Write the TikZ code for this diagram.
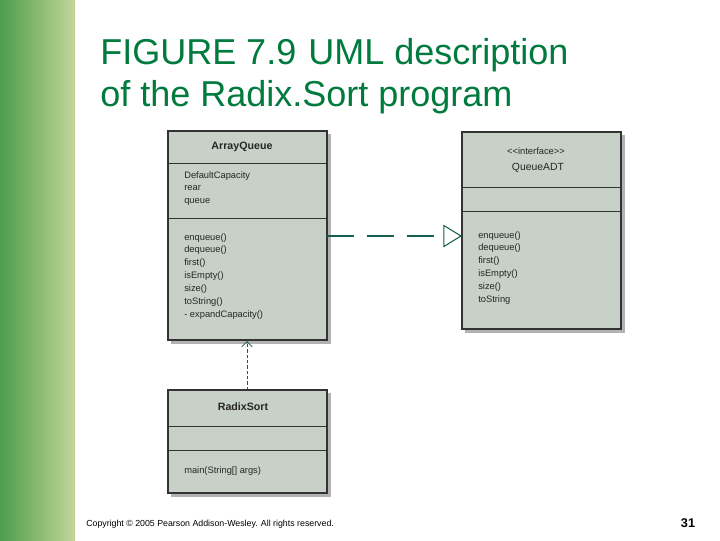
\documentclass[tikz,border=0pt]{standalone}
\usepackage{fontspec}
\setmainfont{Liberation Sans}
\usetikzlibrary{positioning, arrows.meta}
\definecolor{boxfill}{RGB}{199,209,199}
\definecolor{titlegreen}{RGB}{0,122,61}
\definecolor{linkgreen}{RGB}{20,95,80}
\tikzset{
    x=0.75pt, y=-0.75pt,
    umlbox/.style={draw=black!80, fill=boxfill, line width=0.8pt, anchor=north west, inner sep=0pt},
    shadow/.style={fill=black!30, draw=none},
    member/.style={anchor=north west, font=\fontsize{7}{9.7}\selectfont, align=left, inner sep=0pt, text=black!85},
    classname/.style={font=\fontsize{8}{9}\selectfont\bfseries, text=black!85},
}
\begin{document}
\begin{tikzpicture}
        \useasboundingbox (0,0) rectangle (720,540);
        % tree strip on the left
        \shade[left color=green!45!black!70, right color=green!30!yellow!60!black!40] (0,0) rectangle (75,540);
        % title
        \node[anchor=west, inner sep=0pt, text=titlegreen, font=\fontsize{27}{30}\selectfont] (title1) at (100,55) {FIGURE 7.9\,\,UML description};
        \node[anchor=west, inner sep=0pt, text=titlegreen, font=\fontsize{27}{30}\selectfont] (title2) at (100,97) {of the Radix.Sort program};

        % shadows
        \fill[shadow] (171,134) rectangle (331,344);
        \fill[shadow] (465,135) rectangle (625,333);
        \fill[shadow] (171,393) rectangle (331,497);

        % ArrayQueue
        \draw[umlbox] (168,131) rectangle (327,340);
        \draw[black!80] (168,163) -- (327,163) (168,218) -- (327,218);
        \node[classname] (aqname) at (242,147) {ArrayQueue};
        \node[member] (aqattr) at (184,171) {DefaultCapacity\\rear\\queue};
        \node[member] (aqops) at (184,233) {enqueue()\\dequeue()\\first()\\isEmpty()\\size()\\toString()\\- expandCapacity()};

        % QueueADT
        \draw[umlbox] (462,132) rectangle (621,329);
        \draw[black!80] (462,187) -- (621,187) (462,211) -- (621,211);
        \node[font=\fontsize{7}{8}\selectfont, text=black!85] (stereo) at (536,151) {<\kern0pt<interface>\kern0pt>};
        \node[font=\fontsize{7.8}{9}\selectfont, text=black!85] (qname) at (538,168) {QueueADT};
        \node[member] (qops) at (478,231) {enqueue()\\dequeue()\\first()\\isEmpty()\\size()\\toString};

        % RadixSort
        \draw[umlbox] (168,390) rectangle (327,493);
        \draw[black!80] (168,426) -- (327,426) (168,450) -- (327,450);
        \node[classname] (rsname) at (243,407) {RadixSort};
        \node[member] (rsops) at (184,466) {main(String[] args)};

        % connectors
        \coordinate (aqright) at (327,236);
        \coordinate (qleft) at (462,236);
        \coordinate (aqbottom) at (247,341);
        \coordinate (rstop) at (247,390);
        \draw[linkgreen, line width=0.8pt, dash pattern=on 20pt off 10pt, -{Triangle[open, length=14pt, width=17pt]}] (aqright) -- (qleft);
        \draw[linkgreen, line width=0.6pt, dash pattern=on 2.5pt off 1.5pt, -{Straight Barb[length=4pt, width=8pt]}] (rstop) -- (aqbottom);

        % footer
        \node[anchor=west, inner sep=0pt, font=\fontsize{6.6}{8}\selectfont] (copy) at (86,524) {Copyright © 2005 Pearson Addison-Wesley. All rights reserved.};
        \node[font=\fontsize{9.5}{11}\selectfont\bfseries] (pageno) at (688,523) {31};
    \end{tikzpicture}
\end{document}
